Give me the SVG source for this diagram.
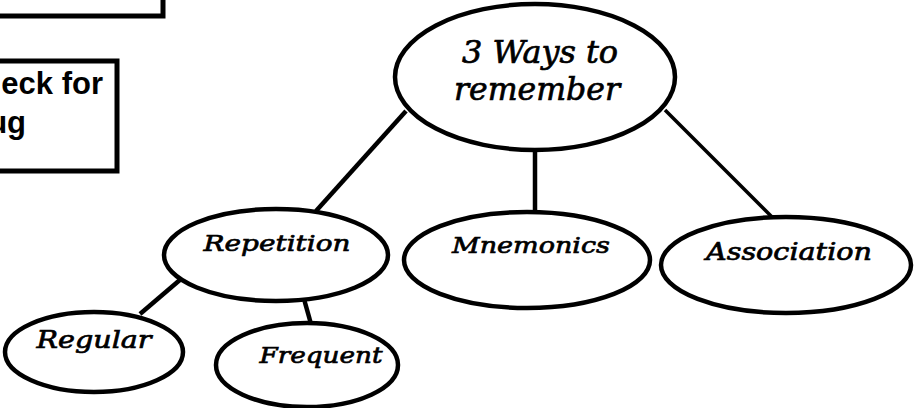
<svg xmlns="http://www.w3.org/2000/svg" width="919" height="408" viewBox="0 0 919 408">
<style>
.bg{fill:#ffffff}
.box{fill:#ffffff;stroke:#000;stroke-width:5}
.node{fill:#ffffff;stroke:#000;stroke-width:4.5}
.edge{stroke:#000;stroke-width:4.5;stroke-linecap:butt}
.bt{font-family:"Liberation Sans",Arial,sans-serif;font-weight:bold;font-size:31px;fill:#000}
.lbl{font-family:"DejaVu Serif",serif;font-style:italic;font-weight:normal;fill:#000;stroke:#000;stroke-width:0.7;text-anchor:middle}
</style>
<rect class="bg" x="0" y="0" width="919" height="408"/>
<g id="box-top">
<rect class="box" x="-10" y="-10" width="173" height="26"/>
</g>
<g id="box-check">
<rect class="box" x="-10" y="61" width="127" height="110"/>
<text class="bt" x="103" y="94" text-anchor="end">eck for</text>
<text class="bt" x="26" y="133" text-anchor="end">ug</text>
</g>
<g id="connectors">
<line class="edge" x1="406" y1="111" x2="316" y2="211"/>
<line class="edge" x1="535" y1="150" x2="535" y2="212"/>
<line class="edge" x1="665" y1="110" x2="773" y2="218" style="stroke-width:3.5"/>
<line class="edge" x1="181" y1="279" x2="140" y2="314"/>
<line class="edge" x1="304" y1="299" x2="311" y2="324"/>
</g>
<g id="main">
<ellipse class="node" cx="535" cy="77" rx="140" ry="73"/>
<text class="lbl" x="540" y="63" font-size="31" textLength="156" lengthAdjust="spacingAndGlyphs">3 Ways to</text>
<text class="lbl" x="537" y="100" font-size="31" textLength="166" lengthAdjust="spacingAndGlyphs">remember</text>
</g>
<g id="repetition">
<ellipse class="node" cx="276" cy="255" rx="112" ry="46"/>
<text class="lbl" x="277" y="251" font-size="23" textLength="147" lengthAdjust="spacingAndGlyphs">Repetition</text>
</g>
<g id="mnemonics">
<ellipse class="node" cx="527" cy="260" rx="123" ry="48"/>
<text class="lbl" x="531" y="253" font-size="23" textLength="158" lengthAdjust="spacingAndGlyphs">Mnemonics</text>
</g>
<g id="association">
<ellipse class="node" cx="786" cy="265" rx="125" ry="48"/>
<text class="lbl" x="789" y="260" font-size="24" textLength="166" lengthAdjust="spacingAndGlyphs">Association</text>
</g>
<g id="regular">
<ellipse class="node" cx="94" cy="352" rx="89" ry="40"/>
<text class="lbl" x="94" y="348" font-size="24" textLength="115" lengthAdjust="spacingAndGlyphs">Regular</text>
</g>
<g id="frequent">
<ellipse class="node" cx="307" cy="365" rx="91" ry="42"/>
<text class="lbl" x="321" y="363" font-size="23" textLength="123" lengthAdjust="spacingAndGlyphs">Frequent</text>
</g>
</svg>
